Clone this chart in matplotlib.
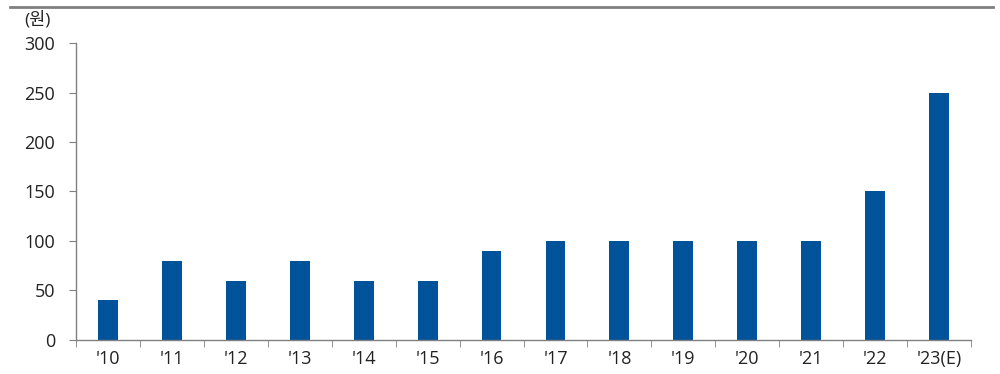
import matplotlib.pyplot as plt
from matplotlib.lines import Line2D
import numpy as np

plt.rcParams['font.family'] = ['Open Sans', 'Noto Sans CJK KR', 'DejaVu Sans']

years = ["'10", "'11", "'12", "'13", "'14", "'15", "'16", "'17", "'18", "'19", "'20", "'21", "'22", "'23(E)"]
dividend = [40, 80, 60, 80, 60, 60, 90, 100, 100, 100, 100, 100, 150, 250]

fig = plt.figure(figsize=(10, 3.74), dpi=100)
ax = fig.add_axes([0.076, 0.091, 0.895, 0.794])

x = np.arange(len(years))
ax.bar(x, dividend, width=0.31, color='#00539b')

ax.set_xlim(-0.5, len(years) - 0.5)
ax.set_ylim(0, 300)
ax.set_yticks(range(0, 301, 50))
ax.set_xticks(x)
ax.set_xticklabels(years)
ax.set_xticks(np.arange(-0.5, len(years), 1), minor=True)

for s in ['top', 'right']:
    ax.spines[s].set_visible(False)
for s in ['left', 'bottom']:
    ax.spines[s].set_color('#808080')
    ax.spines[s].set_linewidth(1)

ax.tick_params(axis='x', which='major', length=0, pad=7, labelsize=13, labelcolor='#222222')
ax.tick_params(axis='x', which='minor', length=5, color='#808080', direction='out')
ax.tick_params(axis='y', length=5, color='#808080', pad=10, labelsize=13, labelcolor='#222222')

fig.text(0.024, 0.947, '(원)', fontsize=12.5, color='#222222', va='center')
fig.add_artist(Line2D([0.01, 0.993], [0.981, 0.981], color='#808080', lw=2, transform=fig.transFigure))

fig.savefig('out.png', dpi=100)
